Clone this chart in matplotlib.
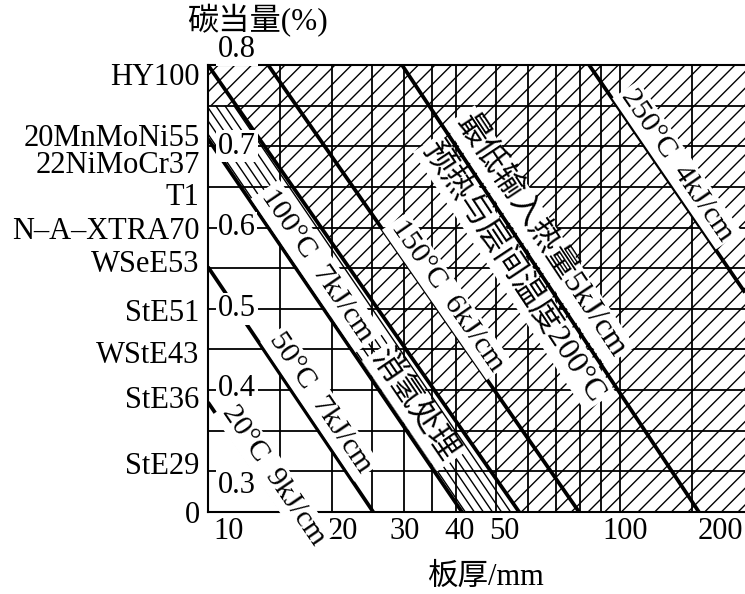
import matplotlib
matplotlib.use("Agg")
import matplotlib.pyplot as plt
import numpy as np
from matplotlib.patches import Polygon
from matplotlib.ticker import NullLocator

plt.rcParams['font.family'] = ['Liberation Serif', 'Noto Sans CJK SC']
plt.rcParams['hatch.linewidth'] = 1.0
plt.rcParams['axes.unicode_minus'] = False

# steel grades on the left, placed at their carbon equivalent
steels = ['HY100', '20MnMoNi55', '22NiMoCr37', 'T1', 'N–A–XTRA70', 'WSeE53',
          'StE51', 'WStE43', 'StE36', 'StE29', '0']
steel_ce = [0.789, 0.714, 0.681, 0.641, 0.600, 0.559, 0.499, 0.447, 0.392, 0.310, 0.25]

ce_labels = [0.8, 0.7, 0.6, 0.5, 0.4, 0.3]
thick_ticks = [10, 20, 30, 40, 50, 100, 200]

grid_t = [15, 20, 25, 30, 35, 40, 50, 60, 70, 80, 90, 100, 150]
grid_ce = [0.30, 0.35, 0.40, 0.45, 0.50, 0.55, 0.60, 0.65, 0.70, 0.75]

# preheat lines, (thickness mm, carbon equivalent) at both ends
t_20 = [10.0, 15.2]
ce_20 = [0.385, 0.25]
t_50 = [10.0, 25.2]
ce_50 = [0.5515, 0.25]
t_100a = [10.0, 41.4]
ce_100a = [0.709, 0.25]
t_100b = [10.0, 57.0]
ce_100b = [0.80, 0.25]
t_150 = [14.0, 79.7]
ce_150 = [0.80, 0.25]
t_200 = [29.6, 155.8]
ce_200 = [0.80, 0.25]
t_250 = [84.3, 201.6]
ce_250 = [0.80, 0.52]

T_MIN, T_MAX = 10, 201.6
CE_MIN, CE_MAX = 0.25, 0.8

fig = plt.figure(figsize=(7.45, 5.94), dpi=100)
ax = fig.add_axes([208 / 745, 82 / 594, 537 / 745, 447 / 594])
ax.set_xscale('log')
ax.set_xlim(T_MIN, T_MAX)
ax.set_ylim(CE_MIN, CE_MAX)


def t_at(ts, ces, ce):
    # thickness where a straight (log x) line reaches a given ce
    lt = np.interp(ce, ces[::-1], np.log10(ts)[::-1])
    return 10 ** lt


tF = t_at(t_100b, ce_100b, 0.75)

# hatched area right of the 100°C band
right = Polygon([(T_MIN, CE_MAX), (T_MAX, CE_MAX), (T_MAX, CE_MIN), (t_100b[1], CE_MIN),
                 (tF, 0.75), (T_MIN, 0.75)], closed=True, facecolor='none',
                edgecolor='black', linewidth=0, hatch='//', zorder=1)
ax.add_patch(right)

# band between the two 100°C lines, hatched parallel to the lines
band = Polygon([(T_MIN, 0.75), (tF, 0.75), (t_100b[1], CE_MIN), (t_100a[1], CE_MIN),
                (T_MIN, ce_100a[0])], closed=True, facecolor='none',
               edgecolor='none', linewidth=0, zorder=1)
ax.add_patch(band)
lt0, lt1 = np.log10(t_100a)
s = (lt1 - lt0) / (ce_100a[0] - ce_100a[1])
ce_h = np.array([CE_MIN - 0.05, CE_MAX + 0.05])
for d in np.arange(0.008, 0.17, 0.022):
    th = 10 ** (lt0 + (ce_100a[0] - ce_h) * s + d)
    hl, = ax.plot(th, ce_h, color='black', lw=1.0, zorder=1)
    hl.set_clip_path(band)

ax.vlines(grid_t, CE_MIN, CE_MAX, color='black', lw=1.3, zorder=2)
ax.hlines(grid_ce, T_MIN, T_MAX, color='black', lw=1.3, zorder=2)

lines = [(t_20, ce_20), (t_50, ce_50), (t_100a, ce_100a), (t_100b, ce_100b),
         (t_150, ce_150), (t_200, ce_200), (t_250, ce_250)]
for ts, ces in lines:
    ax.plot(ts, ces, color='black', lw=2.7, zorder=3, solid_capstyle='butt')

for sp in ['left', 'top', 'bottom']:
    ax.spines[sp].set_linewidth(1.5)
ax.spines['right'].set_visible(False)

ax.set_xticks([])
ax.xaxis.set_minor_locator(NullLocator())
ax.set_yticks(steel_ce, steels)
ax.tick_params(axis='y', length=0, pad=6, labelsize=22)

# thickness labels, slightly shifted like in the print
x_shift = [15, 8, 0, 3, 6, 4, -17]
for v, dx in zip(thick_ticks, x_shift):
    ax.annotate(str(v), xy=(v, CE_MIN), xycoords='data', xytext=(dx, -14),
                textcoords='offset points', ha='center', va='center',
                fontsize=22, annotation_clip=False)

# carbon equivalent numbers inside the chart
y_shift = [11, 0, 0, 0, 1, -10]
for v, dy in zip(ce_labels, y_shift):
    ax.annotate(f'{v:.1f}', xy=(0.054, v), xycoords=ax.get_yaxis_transform(),
                xytext=(0, dy), textcoords='offset points', ha='center', va='center',
                fontsize=22, zorder=5, annotation_clip=False,
                bbox=dict(facecolor='white', edgecolor='none', pad=1))


def along(ts, ces, txt, t, ce, size=21.5, pad=2):
    p = ax.transData.transform(np.column_stack([ts, ces]))
    ang = np.degrees(np.arctan2(p[1, 1] - p[0, 1], p[1, 0] - p[0, 0]))
    ax.text(t, ce, txt, rotation=ang, rotation_mode='anchor', ha='center', va='center',
            fontsize=size, zorder=5,
            bbox=dict(facecolor='white', edgecolor='none', pad=pad))


along(t_20, ce_20, '20°C  9kJ/cm', 14.41, 0.2955)
along(t_50, ce_50, '50°C  7kJ/cm', 18.74, 0.3841)
along(t_100a, ce_100a, '100°C  7kJ/cm', 18.43, 0.5527, pad=3)
along(t_100a, ce_100a, '消氢处理', 31.7, 0.3804, size=23, pad=2)
along(t_150, ce_150, '150°C  6kJ/cm', 38.1, 0.5158)
along(t_200, ce_200, '最低输入热量5kJ/cm', 64.1, 0.5896, size=23, pad=2)
along(t_200, ce_200, '预热与层间温度200°C', 55.4, 0.5453, size=23, pad=2)
along(t_250, ce_250, '250°C  4kJ/cm', 137.8, 0.677)

fig.text(257 / 745, 1 - 21 / 594, '碳当量(%)', ha='center', va='center', fontsize=22.5)
fig.text(485 / 745, 1 - 577 / 594, '板厚/mm', ha='center', va='center', fontsize=22)

fig.savefig('out.png', dpi=100)
